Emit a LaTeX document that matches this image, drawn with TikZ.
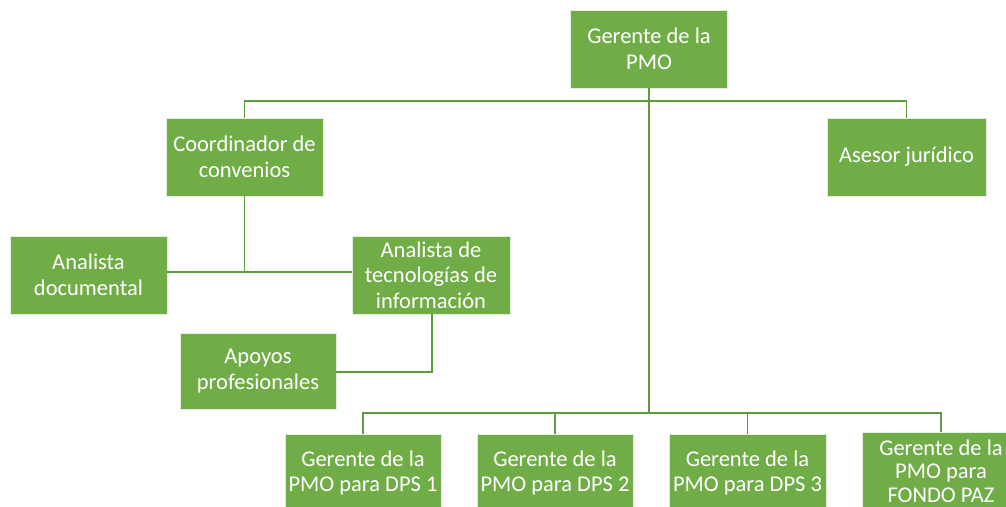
\documentclass[tikz,border=0pt]{standalone}
\usepackage{fontspec}
\setmainfont{Carlito}
\definecolor{boxgreen}{HTML}{70AD47}
\definecolor{linegreen}{HTML}{5E9A3E}
\begin{document}
\begin{tikzpicture}[x=1pt,y=-1pt,
  box/.style={rectangle, fill=boxgreen, draw=white!80!boxgreen, line width=0.6pt,
    text=white, minimum width=157pt, minimum height=78pt, align=center, inner sep=0pt,
    font=\fontsize{22.5}{25.5}\selectfont},
  link/.style={draw=linegreen, line width=1.6pt}]
\clip (0,0) rectangle (1006,506);
\fill[white] (0,0) rectangle (1006,506);
% nodes
\node[box] (gm) at (649,49) {Gerente de la\\PMO};
\node[box] (coord) at (244.5,157) {Coordinador de\\convenios};
\node[box, minimum width=159pt] (ases) at (906.5,157) {Asesor jurídico};
\node[box] (adoc) at (88.5,275) {Analista\\documental};
\node[box, minimum width=158pt] (atec) at (431,275) {Analista de\\tecnologías de\\información};
\node[box, minimum width=156pt, minimum height=76pt] (apoy) at (258,371) {Apoyos\\profesionales};
\node[box, minimum width=156pt] (b1) at (363,473) {Gerente de la\\PMO para DPS 1};
\node[box, minimum width=156pt] (b2) at (555,473) {Gerente de la\\PMO para DPS 2};
\node[box] (b3) at (747.5,473) {Gerente de la\\PMO para DPS 3};
\node[box, font=\fontsize{22.5}{23.5}\selectfont] (b4) at (941,471) {Gerente de la\\PMO para\\FONDO PAZ};
% bus coordinates
\coordinate (topbus) at (649,101);
\coordinate (midbus) at (244.5,272);
\coordinate (botbus) at (649,413);
\coordinate (apbend) at (432,372);
% connectors
\draw[link] (gm.south) -- (botbus);
\draw[link] (coord.north) -- (coord.north |- topbus) -| (ases.north);
\draw[link] (coord.south) -- (midbus);
\draw[link] (adoc.east |- midbus) -- (atec.west |- midbus);
\draw[link] (atec.south -| apbend) -- (apbend) -- (apoy.east |- apbend);
\draw[link] (b1.north) -- (b1.north |- botbus) -| (b4.north);
\draw[link] (b2.north) -- (b2.north |- botbus);
\draw[link] (b3.north) -- (b3.north |- botbus);
\end{tikzpicture}
\end{document}
